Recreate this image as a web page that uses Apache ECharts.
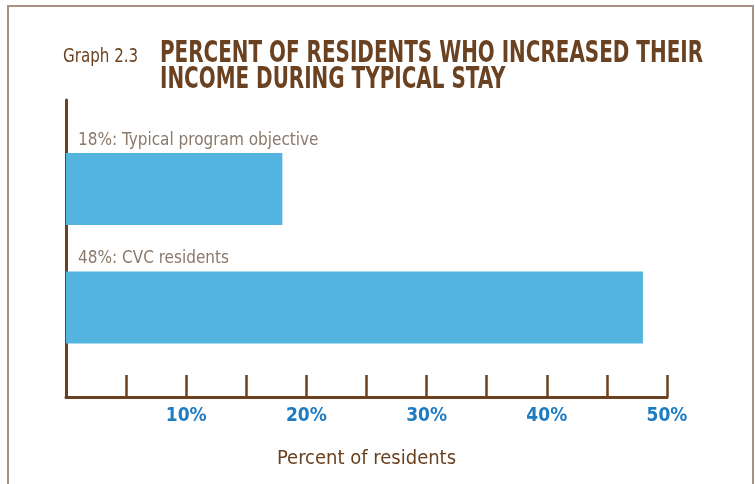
<!DOCTYPE html>
<html><head><meta charset="utf-8">
<script src="https://cdn.jsdelivr.net/npm/echarts@6/dist/echarts.min.js"></script>
<style>html,body{margin:0;padding:0;background:#fff}#c{width:755px;height:484px}</style>
</head><body><div id="c"></div>
<script>
var categories = ['Typical program objective', 'CVC residents'];
var values = [18, 48];
var xTicks = [0, 5, 10, 15, 20, 25, 30, 35, 40, 45, 50];
var titleLines = ['PERCENT OF RESIDENTS WHO INCREASED THEIR', 'INCOME DURING TYPICAL STAY'];
var graphLabel = 'Graph 2.3';
var axisName = 'Percent of residents';

var brown = '#6a4221';
var chart = echarts.init(document.getElementById('c'), null, {renderer: 'canvas'});
var narrow = '"Liberation Sans Narrow", "DejaVu Sans Condensed", sans-serif';

chart.setOption({
  animation: false,
  backgroundColor: '#fff',
  grid: [
    {left: 66, right: 88, top: 100, bottom: 87},
    {left: 66, right: 88, top: 129.75, bottom: 117.25}
  ],
  xAxis: [{
    gridIndex: 0, type: 'value', min: xTicks[0], max: xTicks[xTicks.length - 1], interval: xTicks[1] - xTicks[0],
    axisLine: {show: true, lineStyle: {color: brown, width: 3}},
    axisTick: {show: true, inside: true, length: 22, lineStyle: {color: brown, width: 2.5}},
    splitLine: {show: false},
    axisLabel: {
      margin: 10, color: '#1f7cc2', fontFamily: narrow, fontWeight: 'bold', fontSize: 19,
      formatter: function (v) { return (v > 0 && v % 10 === 0) ? v + '%' : ''; }
    },
    name: axisName, nameLocation: 'middle', nameGap: 52,
    nameTextStyle: {color: brown, fontFamily: narrow, fontSize: 20}
  }, {
    gridIndex: 1, type: 'value', min: xTicks[0], max: xTicks[xTicks.length - 1], show: false
  }],
  yAxis: [{
    gridIndex: 0, type: 'value', min: 0, max: 1,
    axisLine: {show: true, lineStyle: {color: brown, width: 3}},
    axisTick: {show: false}, axisLabel: {show: false}, splitLine: {show: false}
  }, {
    gridIndex: 1, type: 'category', data: categories, inverse: true, show: false
  }],
  series: [{
    type: 'bar', xAxisIndex: 1, yAxisIndex: 1, data: values, barWidth: 72,
    itemStyle: {color: '#53b5df'},
    label: {
      show: true, position: [12, -21], color: '#8a7968', fontFamily: narrow, fontSize: 17,
      formatter: function (p) { return p.value + '%: ' + p.name; }
    }
  }],
  graphic: [
    {type: 'rect', shape: {x: 8, y: 6, width: 745, height: 500}, style: {fill: 'none', stroke: '#a89082', lineWidth: 2}, silent: true},
    {type: 'text', x: 63, y: 47, scaleX: 0.84, style: {text: graphLabel, fill: brown, font: '20px ' + narrow}},
    {type: 'text', x: 160, y: 38, scaleX: 0.715, style: {text: titleLines[0], fill: brown, font: 'bold 31px ' + narrow}},
    {type: 'text', x: 160, y: 64, scaleX: 0.715, style: {text: titleLines[1], fill: brown, font: 'bold 31px ' + narrow}}
  ]
});
</script></body></html>
